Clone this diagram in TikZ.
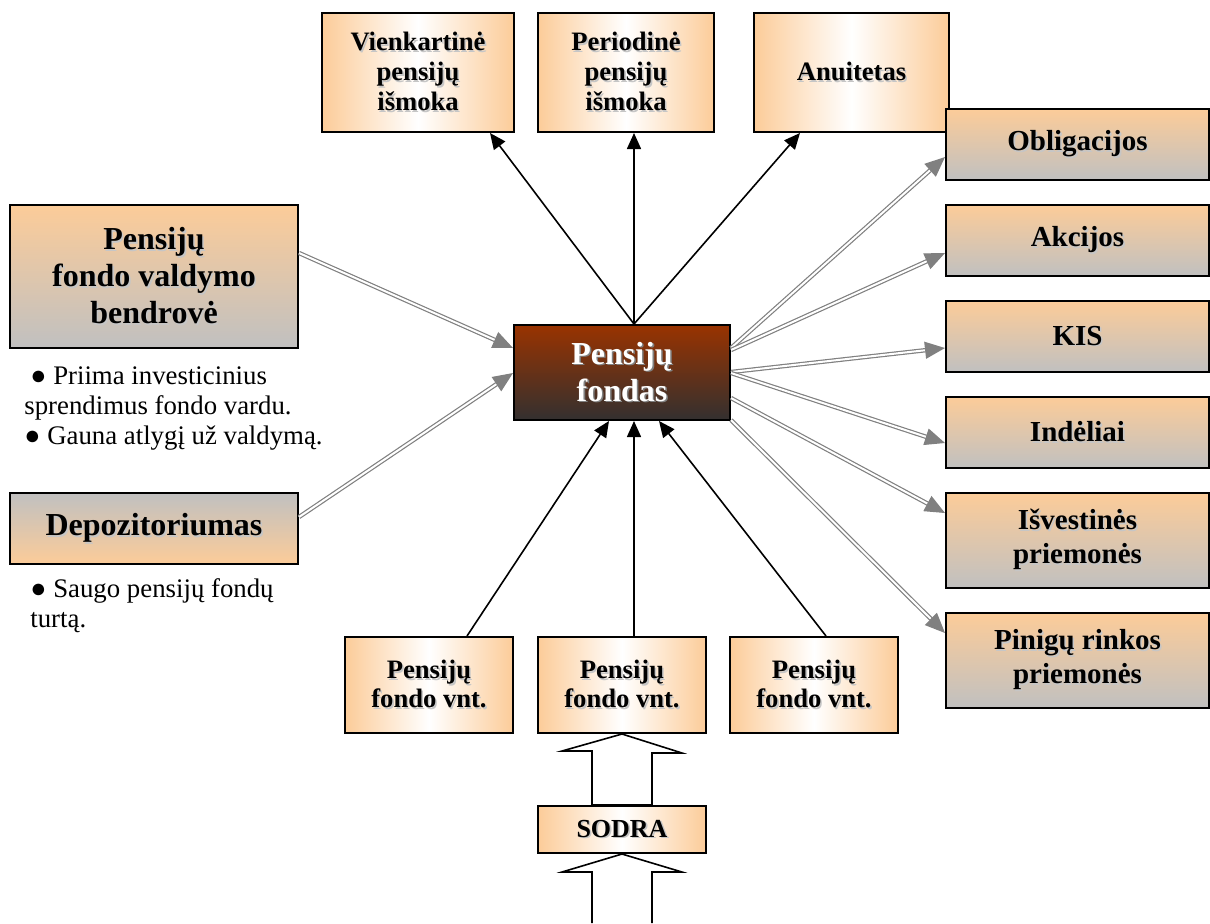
\documentclass[tikz,border=0pt]{standalone}
\usepackage{fontspec}
\setmainfont{Liberation Serif}
\usepackage{tikz}
\usetikzlibrary{arrows.meta}

\definecolor{peach}{RGB}{252,204,153}
\definecolor{boxgray}{RGB}{192,192,192}
\definecolor{rust}{RGB}{153,51,0}
\definecolor{fundgray}{RGB}{51,48,48}
\newcommand{\shd}[2][gray!45]{\rlap{\hspace{0.8pt}\raisebox{-0.8pt}{\textcolor{#1}{#2}}}#2}

\begin{document}
\begin{tikzpicture}[x=0.5pt, y=-0.5pt,
    vgrad/.style={draw, line width=1pt, top color=peach, bottom color=boxgray, align=center, inner sep=0pt},
    vgradup/.style={vgrad, top color=boxgray, bottom color=peach},
    hgrad/.style={draw, line width=1pt, left color=peach, right color=peach, middle color=white, align=center, inner sep=0pt},
    blackarrow/.style={line width=0.8pt, -{Triangle[length=8pt, width=7pt]}},
    grayarrow/.style={draw=gray, double=white, line width=0.6pt, double distance=1pt, -{Triangle[length=10pt, width=8.5pt]}},
    blockarrow/.style={draw, line width=0.8pt, fill=white}]

        \useasboundingbox (0,0) rectangle (1210,923);

        %Payouts
        \node [hgrad, minimum width=96pt, minimum height=59.5pt, font=\fontsize{13.3}{15}\selectfont\bfseries]
            (vienk) at (418,72.5) {\shd{Vienkartinė}\\\shd{pensijų}\\\shd{išmoka}};
        \node [hgrad, minimum width=88pt, minimum height=59.5pt, font=\fontsize{13.3}{15}\selectfont\bfseries]
            (period) at (626,72.5) {\shd{Periodinė}\\\shd{pensijų}\\\shd{išmoka}};
        \node [hgrad, minimum width=97.5pt, minimum height=59.5pt, font=\fontsize{13.3}{15}\selectfont\bfseries]
            (anuit) at (851.5,72.5) {\shd{Anuitetas}};

        %Fund
        \node [draw, line width=1pt, top color=rust, bottom color=fundgray, align=center, inner sep=0pt,
            minimum width=108pt, minimum height=47.5pt, text=white, font=\fontsize{16}{18.5}\selectfont\bfseries]
            (fund) at (622,372.5) {\shd[gray]{Pensijų}\\\shd[gray]{fondas}};

        %Management and depository
        \node [vgrad, minimum width=144pt, minimum height=71.5pt, font=\fontsize{16}{18.5}\selectfont\bfseries]
            (valdymo) at (154,276.5) {\shd{Pensijų}\\\shd{fondo valdymo}\\\shd{bendrovė}};
        \node [anchor=base west, align=left, inner sep=0pt, font=\fontsize{13.4}{15}\selectfont]
            (valdymotxt) at (24,444) {\hspace{3pt}● Priima investicinius\\sprendimus fondo vardu.\\● Gauna atlygį už valdymą.};
        \node [vgradup, minimum width=144pt, minimum height=35.5pt, font=\fontsize{16}{18.5}\selectfont\bfseries]
            (depo) at (154,528.5) {\shd{Depozitoriumas}};
        \node [anchor=base west, align=left, inner sep=0pt, font=\fontsize{13.4}{15}\selectfont]
            (depotxt) at (30,627) {● Saugo pensijų fondų\\turtą.};

        %Investments
        \node [vgrad, minimum width=131.5pt, minimum height=35.5pt, font=\fontsize{14.5}{17}\selectfont\bfseries]
            (obl) at (1077.5,144.5) {\shd{Obligacijos}};
        \node [vgrad, minimum width=131.5pt, minimum height=35.5pt, font=\fontsize{14.5}{17}\selectfont\bfseries]
            (akc) at (1077.5,240.5) {\shd{Akcijos}};
        \node [vgrad, minimum width=131.5pt, minimum height=35.5pt, font=\fontsize{14.5}{17}\selectfont\bfseries]
            (kis) at (1077.5,336.5) {\shd{KIS}};
        \node [vgrad, minimum width=131.5pt, minimum height=35.5pt, font=\fontsize{14.5}{17}\selectfont\bfseries]
            (ind) at (1077.5,432.5) {\shd{Indėliai}};
        \node [vgrad, minimum width=131.5pt, minimum height=47.5pt, font=\fontsize{14.5}{17}\selectfont\bfseries]
            (isv) at (1077.5,540.5) {\shd{Išvestinės}\\\shd{priemonės}};
        \node [vgrad, minimum width=131.5pt, minimum height=47.5pt, font=\fontsize{14.5}{17}\selectfont\bfseries]
            (pin) at (1077.5,660.5) {\shd{Pinigų rinkos}\\\shd{priemonės}};

        %Units and SODRA
        \node [hgrad, minimum width=84pt, minimum height=48pt, font=\fontsize{13.3}{14.5}\selectfont\bfseries]
            (unita) at (429,685) {\shd{Pensijų}\\\shd{fondo vnt.}};
        \node [hgrad, minimum width=84pt, minimum height=48pt, font=\fontsize{13.3}{14.5}\selectfont\bfseries]
            (unitb) at (622,685) {\shd{Pensijų}\\\shd{fondo vnt.}};
        \node [hgrad, minimum width=84pt, minimum height=48pt, font=\fontsize{13.3}{14.5}\selectfont\bfseries]
            (unitc) at (814,685) {\shd{Pensijų}\\\shd{fondo vnt.}};
        \node [hgrad, minimum width=84pt, minimum height=23.5pt, font=\fontsize{13}{15}\selectfont\bfseries]
            (sodra) at (622,829.5) {\shd{SODRA}};

        %Arrows to payouts
        \draw [blackarrow] ([xshift=6pt]fund.north) -- (vienk.south -| 490,0);
        \draw [blackarrow] ([xshift=6pt]fund.north) -- (period.south -| 634,0);
        \draw [blackarrow] ([xshift=6pt]fund.north) -- (anuit.south -| 800,0);

        %Arrows from units
        \draw [blackarrow] (unita.north -| 467,0) -- (fund.south -| 609,0);
        \draw [blackarrow] (unitb.north -| 634,0) -- (fund.south -| 634,0);
        \draw [blackarrow] (unitc.north -| 826,0) -- (fund.south -| 659,0);

        %Management and depository arrows
        \draw [grayarrow] (valdymo.east |- 0,253) -- (fund.west |- 0,348);
        \draw [grayarrow] (depo.east |- 0,517) -- (fund.west |- 0,373);

        %Investment arrows
        \draw [grayarrow] (fund.east |- 0,348) -- (obl.west |- 0,157);
        \draw [grayarrow] (fund.east |- 0,350) -- (akc.west |- 0,253);
        \draw [grayarrow] (fund.east |- 0,372) -- (kis.west |- 0,348);
        \draw [grayarrow] (fund.east |- 0,373) -- (ind.west |- 0,443);
        \draw [grayarrow] (fund.east |- 0,398) -- (isv.west |- 0,513);
        \draw [grayarrow] (fund.east |- 0,420) -- (pin.west |- 0,633);

        %Block arrows
        \draw [blockarrow] (unitb.south) -- ++(60,19) -- ++(-30,0) -- ([xshift=15pt]sodra.north)
            -- ([xshift=-15pt]sodra.north) -- ++(0,-54) -- ++(-30,0) -- cycle;
        \draw [blockarrow] (592,923) -- (592,872) -- (562,872) -- (sodra.south) -- (682,872) -- (652,872) -- (652,923);

      \end{tikzpicture}
\end{document}
